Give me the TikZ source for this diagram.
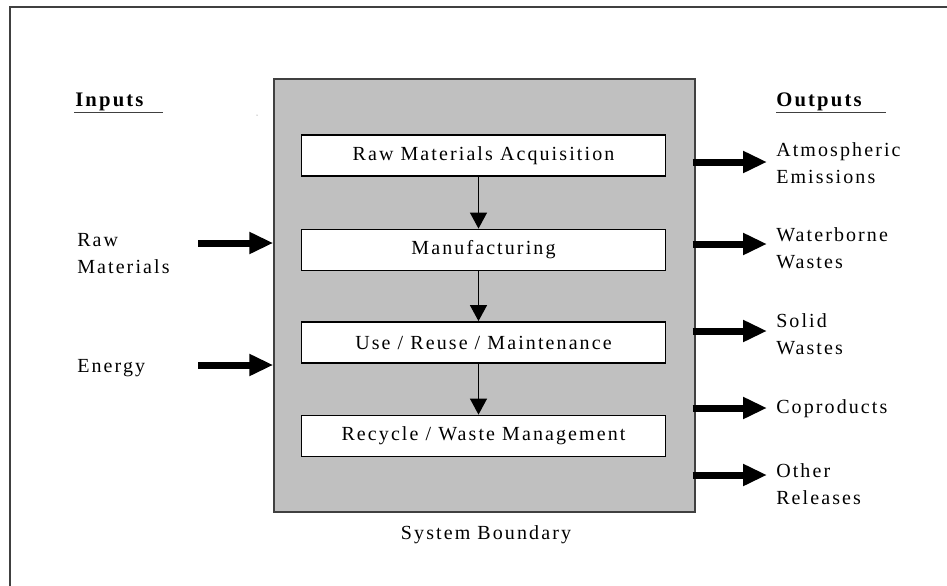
\documentclass[tikz,border=0pt]{standalone}
\usepackage{fontspec}
\setmainfont{Liberation Serif}[LetterSpace=10.5]
\usetikzlibrary{arrows.meta,calc}
\definecolor{sysgray}{HTML}{C0C0C0}
\definecolor{framegray}{HTML}{404040}
\begin{document}
\begin{tikzpicture}[x=0.75pt,y=-0.75pt,
  font=\fontsize{15pt}{20.25pt}\selectfont,
  sysbox/.style={draw=framegray, line width=1.1pt, fill=sysgray, minimum width=315.75pt, minimum height=324.75pt, inner sep=0pt},
  stagebox/.style={draw=black, line width=1.1pt, fill=white, minimum width=272.75pt, minimum height=31pt, inner sep=0pt},
  flowarrow/.style={line width=0.9pt, -{Triangle[length=12pt,width=12.75pt]}},
  bigarrow/.style={line width=5.25pt, -{Triangle[length=18pt,width=15.5pt]}},
  lbl/.style={anchor=west, align=left, inner sep=0pt},
  head/.style={anchor=south west, inner sep=0pt, font=\fontsize{15.5pt}{20.25pt}\selectfont\bfseries}
]
\useasboundingbox (0,0) rectangle (947,586);
% outer frame (only left and top edges visible)
\draw[framegray, line width=1.2pt] (10,586) -- (10,7) -- (947,7);
\fill[black!60] (257,115) circle (0.5);

% system boundary
\node[sysbox] (sys) at (484.5,295.5) {};
\node[stagebox] (b1) at (483.5,155.5) {Raw Materials Acquisition};
\node[stagebox] (b2) at (483.5,250) {Manufacturing};
\node[stagebox] (b3) at (483.5,342.5) {Use / Reuse / Maintenance};
\node[stagebox] (b4) at (483.5,436) {Recycle / Waste Management};
\node[inner sep=0pt] (sb) at (486,535) {System Boundary};

\foreach \a/\b in {b1/b2,b2/b3,b3/b4}
  \draw[flowarrow] ([xshift=-3.75pt]\a.south) -- ([xshift=-3.75pt]\b.north);

% headings
\node[head] (inp) at (75,111) {Inputs};
\node[head] (outp) at (776,111) {Outputs};
\draw[framegray, line width=1.1pt] (74,112.5) -- (163,112.5);
\draw[framegray, line width=1.1pt] (776,112.5) -- (886,112.5);

% inputs
\node[lbl] (rawm) at (77,254) {Raw\\Materials};
\node[lbl] (energy) at (77,368) {Energy};
\coordinate (i1) at (198,243);
\coordinate (i2) at (198,365);
\draw[bigarrow] (i1) -- (sys.west |- i1);
\draw[bigarrow] (i2) -- (sys.west |- i2);

% outputs
\node[lbl] (o1) at (776,163.5) {Atmospheric\\Emissions};
\node[lbl] (o2) at (776,248.5) {Waterborne\\Wastes};
\node[lbl] (o3) at (776,334.5) {Solid\\Wastes};
\node[lbl] (o4) at (776,409) {Coproducts};
\node[lbl] (o5) at (776,484.5) {Other\\Releases};
\coordinate (t1) at (767,162);
\coordinate (t2) at (767,244);
\coordinate (t3) at (767,331);
\coordinate (t4) at (767,408);
\coordinate (t5) at (767,475);
\foreach \t in {t1,t2,t3,t4,t5}
  \draw[bigarrow] ([xshift=-2.25pt]sys.east |- \t) -- (\t);
\end{tikzpicture}
\end{document}
